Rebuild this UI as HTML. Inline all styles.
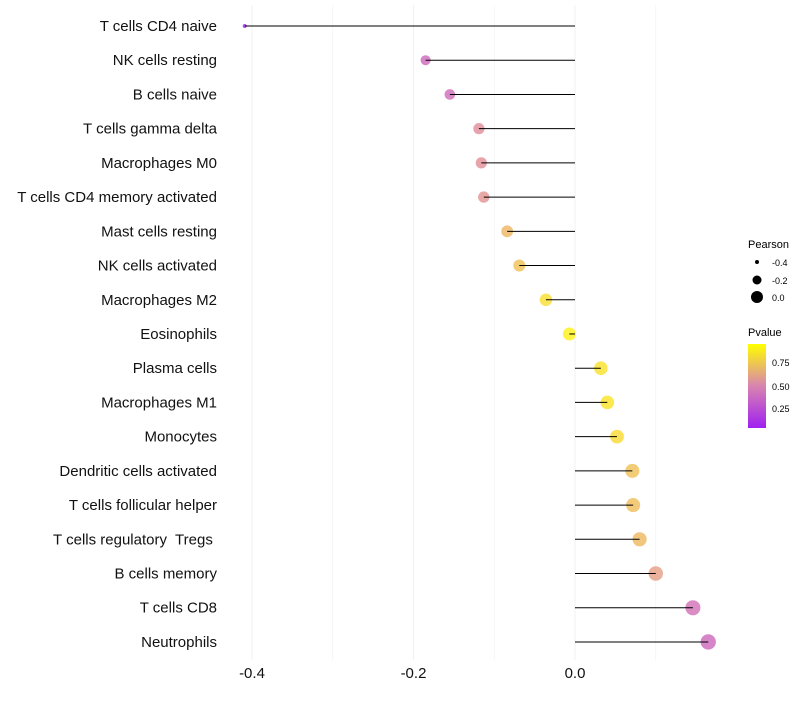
<!DOCTYPE html>
<html><head><meta charset="utf-8"><style>
body{margin:0;background:#fff;font-family:"Liberation Sans",sans-serif}
text{white-space:pre}
</style></head><body>
<svg id="chart" width="800" height="700" xmlns="http://www.w3.org/2000/svg" font-family="Liberation Sans, sans-serif">
<defs><linearGradient id="pg" x1="0" y1="1" x2="0" y2="0">
<stop offset="0" stop-color="#a020f0"/><stop offset="0.5" stop-color="#d884b0"/><stop offset="1" stop-color="#ffff00"/>
</linearGradient></defs>
<g id="grid"></g>
<g id="pts"></g>
<g id="marks"></g>
<g id="labels"></g>
<g id="xt"></g>
<g>
<text x="748" y="248" font-size="11">Pearson</text>
<circle cx="757" cy="262" r="2" fill="#000"/><text x="772" y="266" font-size="9">-0.4</text>
<circle cx="757" cy="280" r="4.5" fill="#000"/><text x="772" y="284" font-size="9">-0.2</text>
<circle cx="757" cy="297" r="6" fill="#000"/><text x="772" y="301" font-size="9">0.0</text>
</g>
<g>
<text x="748" y="336" font-size="11">Pvalue</text>
<rect x="748" y="344" width="18" height="84" fill="url(#pg)"/>
<text x="772" y="366" font-size="9">0.75</text>
<text x="772" y="390" font-size="9">0.50</text>
<text x="772" y="412" font-size="9">0.25</text>
</g>
</svg>
<script>
const categories=["T cells CD4 naive","NK cells resting","B cells naive","T cells gamma delta","Macrophages M0","T cells CD4 memory activated","Mast cells resting","NK cells activated","Macrophages M2","Eosinophils","Plasma cells","Macrophages M1","Monocytes","Dendritic cells activated","T cells follicular helper","T cells regulatory  Tregs ","B cells memory","T cells CD8","Neutrophils"];
const pearson=[-0.409,-0.185,-0.155,-0.119,-0.116,-0.113,-0.084,-0.069,-0.036,-0.007,0.032,0.040,0.052,0.071,0.072,0.080,0.100,0.146,0.165];
const pvalue=[0.04,0.38,0.40,0.55,0.56,0.58,0.72,0.76,0.88,0.96,0.90,0.91,0.87,0.76,0.75,0.73,0.62,0.42,0.38];
const xTicks=[-0.4,-0.2,0.0];
const xMinor=[-0.3,-0.1,0.1];
const NS="http://www.w3.org/2000/svg";
const xS=v=>575+v*807.5;
const yS=i=>26+i*34.22;
const rS=v=>Math.sqrt(4+(v+0.409)*95);
function lerp(a,b,t){return a.map((x,i)=>Math.round(x+(b[i]-x)*t));}
function col(p){const lo=[160,32,240],mid=[220,128,170],hi=[255,240,20];
 const t=Math.max(0,Math.min(1,(p-0.04)/0.92));
 const c=t<0.5?lerp(lo,mid,t*2):lerp(mid,hi,(t-0.5)*2);return `rgb(${c})`;}
function mk(tag,attrs,parent){const e=document.createElementNS(NS,tag);for(const k in attrs)e.setAttribute(k,attrs[k]);document.getElementById(parent).appendChild(e);return e;}
xMinor.concat(xTicks).forEach(v=>{const l=mk('line',{x1:xS(v),x2:xS(v),y1:5,y2:660,stroke:'#f0f0f0','stroke-width':xTicks.includes(v)?1:0.6},'grid');

});
xTicks.forEach(v=>{const t=mk('text',{x:xS(v),y:678,'font-size':15,'text-anchor':'middle',fill:'#111'},'xt');t.textContent=v.toFixed(1);

});
categories.forEach((c,i)=>{
 const t=mk('text',{x:217,y:yS(i)+5,'font-size':15,'text-anchor':'end',fill:'#111'},'labels');t.textContent=c;
 
 
 const p=mk('circle',{cx:xS(pearson[i]),cy:yS(i),r:rS(pearson[i]),fill:col(pvalue[i]),'fill-opacity':0.8},'pts');
 
 
 const l=mk('line',{x1:xS(0),x2:xS(pearson[i]),y1:yS(i),y2:yS(i),stroke:'#000','stroke-width':1},'marks');
 
 
});
</script>
</body></html>
